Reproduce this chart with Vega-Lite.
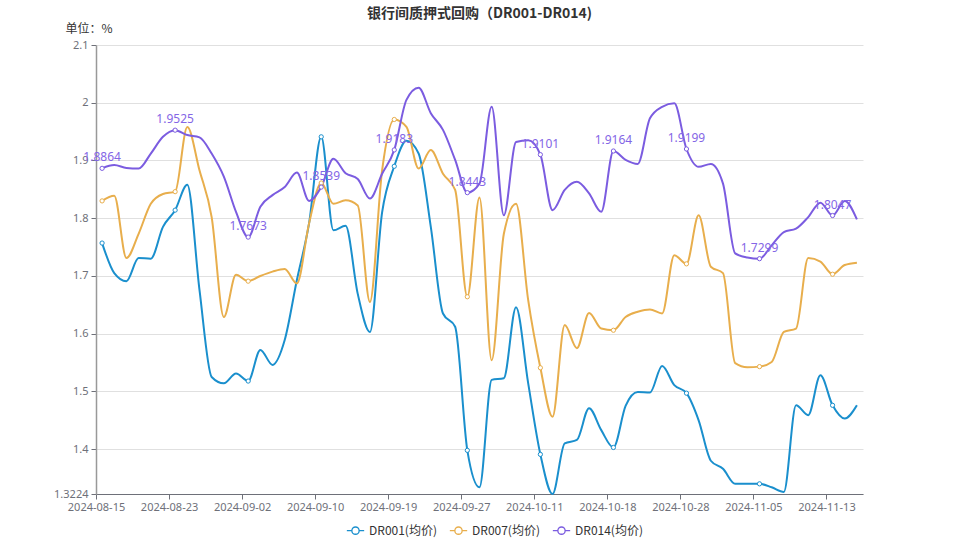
{
  "$schema": "https://vega.github.io/schema/vega-lite/v6.json",
  "autosize": {"type": "none"},
  "padding": {"left": 96, "top": 45, "right": 96, "bottom": 45},
  "width": 767,
  "height": 449,
  "background": "white",
  "config": {
    "font": "Noto Sans, Noto Sans CJK SC, sans-serif",
    "view": {"stroke": null}
  },
  "title": {
    "text": "银行间质押式回购（DR001-DR014)",
    "fontSize": 14,
    "fontWeight": "bold",
    "color": "#333333",
    "anchor": "middle",
    "font": "Noto Sans CJK SC",
    "offset": 1
  },
  "data": {
    "values": [
      {"date": "2024-08-15", "DR001(均价)": 1.757, "DR007(均价)": 1.830, "DR014(均价)": 1.8864},
      {"date": "2024-08-16", "DR001(均价)": 1.705, "DR007(均价)": 1.839, "DR014(均价)": 1.892},
      {"date": "2024-08-19", "DR001(均价)": 1.691, "DR007(均价)": 1.731, "DR014(均价)": 1.887},
      {"date": "2024-08-20", "DR001(均价)": 1.731, "DR007(均价)": 1.773, "DR014(均价)": 1.886},
      {"date": "2024-08-21", "DR001(均价)": 1.730, "DR007(均价)": 1.825, "DR014(均价)": 1.912},
      {"date": "2024-08-22", "DR001(均价)": 1.785, "DR007(均价)": 1.842, "DR014(均价)": 1.941},
      {"date": "2024-08-23", "DR001(均价)": 1.814, "DR007(均价)": 1.846, "DR014(均价)": 1.9525},
      {"date": "2024-08-26", "DR001(均价)": 1.858, "DR007(均价)": 1.958, "DR014(均价)": 1.944},
      {"date": "2024-08-27", "DR001(均价)": 1.676, "DR007(均价)": 1.883, "DR014(均价)": 1.940},
      {"date": "2024-08-28", "DR001(均价)": 1.525, "DR007(均价)": 1.802, "DR014(均价)": 1.912},
      {"date": "2024-08-29", "DR001(均价)": 1.514, "DR007(均价)": 1.629, "DR014(均价)": 1.872},
      {"date": "2024-08-30", "DR001(均价)": 1.531, "DR007(均价)": 1.702, "DR014(均价)": 1.811},
      {"date": "2024-09-02", "DR001(均价)": 1.518, "DR007(均价)": 1.691, "DR014(均价)": 1.7673},
      {"date": "2024-09-03", "DR001(均价)": 1.572, "DR007(均价)": 1.700, "DR014(均价)": 1.820},
      {"date": "2024-09-04", "DR001(均价)": 1.546, "DR007(均价)": 1.7075, "DR014(均价)": 1.840},
      {"date": "2024-09-05", "DR001(均价)": 1.589, "DR007(均价)": 1.712, "DR014(均价)": 1.854},
      {"date": "2024-09-06", "DR001(均价)": 1.693, "DR007(均价)": 1.687, "DR014(均价)": 1.879},
      {"date": "2024-09-09", "DR001(均价)": 1.791, "DR007(均价)": 1.791, "DR014(均价)": 1.830},
      {"date": "2024-09-10", "DR001(均价)": 1.941, "DR007(均价)": 1.861, "DR014(均价)": 1.8539},
      {"date": "2024-09-11", "DR001(均价)": 1.779, "DR007(均价)": 1.825, "DR014(均价)": 1.903},
      {"date": "2024-09-12", "DR001(均价)": 1.787, "DR007(均价)": 1.831, "DR014(均价)": 1.878},
      {"date": "2024-09-13", "DR001(均价)": 1.669, "DR007(均价)": 1.822, "DR014(均价)": 1.868},
      {"date": "2024-09-14", "DR001(均价)": 1.603, "DR007(均价)": 1.655, "DR014(均价)": 1.834},
      {"date": "2024-09-18", "DR001(均价)": 1.810, "DR007(均价)": 1.883, "DR014(均价)": 1.877},
      {"date": "2024-09-19", "DR001(均价)": 1.890, "DR007(均价)": 1.971, "DR014(均价)": 1.9183},
      {"date": "2024-09-20", "DR001(均价)": 1.934, "DR007(均价)": 1.958, "DR014(均价)": 2.005},
      {"date": "2024-09-23", "DR001(均价)": 1.912, "DR007(均价)": 1.886, "DR014(均价)": 2.026},
      {"date": "2024-09-24", "DR001(均价)": 1.785, "DR007(均价)": 1.918, "DR014(均价)": 1.982},
      {"date": "2024-09-25", "DR001(均价)": 1.635, "DR007(均价)": 1.877, "DR014(均价)": 1.953},
      {"date": "2024-09-26", "DR001(均价)": 1.612, "DR007(均价)": 1.849, "DR014(均价)": 1.901},
      {"date": "2024-09-27", "DR001(均价)": 1.398, "DR007(均价)": 1.664, "DR014(均价)": 1.8443},
      {"date": "2024-09-29", "DR001(均价)": 1.334, "DR007(均价)": 1.836, "DR014(均价)": 1.860},
      {"date": "2024-09-30", "DR001(均价)": 1.520, "DR007(均价)": 1.554, "DR014(均价)": 1.993},
      {"date": "2024-10-08", "DR001(均价)": 1.523, "DR007(均价)": 1.773, "DR014(均价)": 1.805},
      {"date": "2024-10-09", "DR001(均价)": 1.646, "DR007(均价)": 1.825, "DR014(均价)": 1.932},
      {"date": "2024-10-10", "DR001(均价)": 1.514, "DR007(均价)": 1.658, "DR014(均价)": 1.935},
      {"date": "2024-10-11", "DR001(均价)": 1.391, "DR007(均价)": 1.541, "DR014(均价)": 1.9101},
      {"date": "2024-10-12", "DR001(均价)": 1.3224, "DR007(均价)": 1.456, "DR014(均价)": 1.814},
      {"date": "2024-10-14", "DR001(均价)": 1.410, "DR007(均价)": 1.615, "DR014(均价)": 1.849},
      {"date": "2024-10-15", "DR001(均价)": 1.416, "DR007(均价)": 1.575, "DR014(均价)": 1.863},
      {"date": "2024-10-16", "DR001(均价)": 1.471, "DR007(均价)": 1.636, "DR014(均价)": 1.843},
      {"date": "2024-10-17", "DR001(均价)": 1.433, "DR007(均价)": 1.609, "DR014(均价)": 1.811},
      {"date": "2024-10-18", "DR001(均价)": 1.403, "DR007(均价)": 1.606, "DR014(均价)": 1.9164},
      {"date": "2024-10-21", "DR001(均价)": 1.475, "DR007(均价)": 1.629, "DR014(均价)": 1.901},
      {"date": "2024-10-22", "DR001(均价)": 1.499, "DR007(均价)": 1.638, "DR014(均价)": 1.894},
      {"date": "2024-10-23", "DR001(均价)": 1.498, "DR007(均价)": 1.642, "DR014(均价)": 1.973},
      {"date": "2024-10-24", "DR001(均价)": 1.544, "DR007(均价)": 1.635, "DR014(均价)": 1.993},
      {"date": "2024-10-25", "DR001(均价)": 1.511, "DR007(均价)": 1.736, "DR014(均价)": 1.999},
      {"date": "2024-10-28", "DR001(均价)": 1.497, "DR007(均价)": 1.721, "DR014(均价)": 1.9199},
      {"date": "2024-10-29", "DR001(均价)": 1.450, "DR007(均价)": 1.805, "DR014(均价)": 1.889},
      {"date": "2024-10-30", "DR001(均价)": 1.380, "DR007(均价)": 1.716, "DR014(均价)": 1.894},
      {"date": "2024-10-31", "DR001(均价)": 1.366, "DR007(均价)": 1.705, "DR014(均价)": 1.860},
      {"date": "2024-11-01", "DR001(均价)": 1.340, "DR007(均价)": 1.549, "DR014(均价)": 1.739},
      {"date": "2024-11-04", "DR001(均价)": 1.340, "DR007(均价)": 1.542, "DR014(均价)": 1.732},
      {"date": "2024-11-05", "DR001(均价)": 1.340, "DR007(均价)": 1.543, "DR014(均价)": 1.7299},
      {"date": "2024-11-06", "DR001(均价)": 1.334, "DR007(均价)": 1.551, "DR014(均价)": 1.753},
      {"date": "2024-11-07", "DR001(均价)": 1.326, "DR007(均价)": 1.603, "DR014(均价)": 1.776},
      {"date": "2024-11-08", "DR001(均价)": 1.476, "DR007(均价)": 1.609, "DR014(均价)": 1.782},
      {"date": "2024-11-11", "DR001(均价)": 1.459, "DR007(均价)": 1.731, "DR014(均价)": 1.802},
      {"date": "2024-11-12", "DR001(均价)": 1.528, "DR007(均价)": 1.725, "DR014(均价)": 1.827},
      {"date": "2024-11-13", "DR001(均价)": 1.476, "DR007(均价)": 1.703, "DR014(均价)": 1.8047},
      {"date": "2024-11-14", "DR001(均价)": 1.453, "DR007(均价)": 1.719, "DR014(均价)": 1.830},
      {"date": "2024-11-15", "DR001(均价)": 1.476, "DR007(均价)": 1.723, "DR014(均价)": 1.798}
    ]
  },
  "transform": [
    {"fold": ["DR001(均价)", "DR007(均价)", "DR014(均价)"], "as": ["series", "value"]}
  ],
  "encoding": {
    "x": {
      "field": "date",
      "type": "ordinal",
      "sort": null,
      "scale": {"type": "point", "padding": 0.5},
      "axis": {
        "title": null,
        "values": ["2024-08-15", "2024-08-23", "2024-09-02", "2024-09-10", "2024-09-19", "2024-09-27", "2024-10-11", "2024-10-18", "2024-10-28", "2024-11-05", "2024-11-13"],
        "labelAngle": 0,
        "labelFontSize": 11,
        "labelColor": "#6E7079",
        "labelPadding": 2,
        "tickOffset": -6.09,
        "tickSize": 5,
        "tickColor": "#6E7079",
        "domainColor": "#6E7079",
        "grid": false
      }
    },
    "y": {
      "field": "value",
      "type": "quantitative",
      "scale": {"domain": [1.3224, 2.1], "zero": false, "nice": false},
      "axis": {
        "title": "单位：%",
        "titleAngle": 0,
        "titleAlign": "left",
        "titleBaseline": "middle",
        "titleX": -31,
        "titleY": -17,
        "titleFontSize": 12,
        "titleFontWeight": "normal",
        "titleColor": "#333333",
        "titleFont": "Noto Sans CJK SC",
        "values": [1.3224, 1.4, 1.5, 1.6, 1.7, 1.8, 1.9, 2.0, 2.1],
        "labelExpr": "datum.value + ''",
        "labelFontSize": 11,
        "labelColor": "#6E7079",
        "tickColor": "#6E7079",
        "tickSize": 5,
        "domainColor": "#999999",
        "domainWidth": 1.5,
        "gridColor": "#E0E0E0",
        "labelPadding": 3
      }
    }
  },
  "layer": [
    {
      "mark": {"type": "line", "interpolate": "monotone", "strokeWidth": 2},
      "encoding": {
        "color": {
          "field": "series",
          "type": "nominal",
          "scale": {
            "domain": ["DR001(均价)", "DR007(均价)", "DR014(均价)"],
            "range": ["#1a8fcd", "#e8ae4c", "#7b5ce0"]
          },
          "legend": {
            "orient": "none",
            "legendX": 250,
            "legendY": 476,
            "direction": "horizontal",
            "title": null,
            "symbolType": "M-1,0L-0.42,0M0.42,0L1,0M0.42,0A0.42,0.42,0,1,1,-0.42,0A0.42,0.42,0,1,1,0.42,0",
            "symbolSize": 300,
            "symbolStrokeWidth": 1.3,
            "symbolFillColor": "white",
            "labelFontSize": 12,
            "labelColor": "#333333",
            "labelFont": "Noto Sans CJK SC",
            "columnPadding": 10,
            "symbolOffset": 0
          }
        }
      }
    },
    {
      "transform": [
        {"filter": {"field": "date", "oneOf": ["2024-08-15", "2024-08-23", "2024-09-02", "2024-09-10", "2024-09-19", "2024-09-27", "2024-10-11", "2024-10-18", "2024-10-28", "2024-11-05", "2024-11-13"]}}
      ],
      "mark": {"type": "point", "filled": false, "fill": "white", "size": 18, "strokeWidth": 1, "opacity": 1},
      "encoding": {
        "stroke": {"field": "series", "type": "nominal", "scale": {"domain": ["DR001(均价)", "DR007(均价)", "DR014(均价)"], "range": ["#1a8fcd", "#e8ae4c", "#7b5ce0"]}, "legend": null}
      }
    },
    {
      "transform": [
        {"filter": {"field": "series", "equal": "DR014(均价)"}},
        {"filter": {"field": "date", "oneOf": ["2024-08-15", "2024-08-23", "2024-09-02", "2024-09-10", "2024-09-19", "2024-09-27", "2024-10-11", "2024-10-18", "2024-10-28", "2024-11-05", "2024-11-13"]}}
      ],
      "mark": {"type": "text", "baseline": "bottom", "dy": -4, "fontSize": 12, "color": "#8466e6"},
      "encoding": {"text": {"field": "value", "type": "quantitative", "format": ""}}
    }
  ]
}
